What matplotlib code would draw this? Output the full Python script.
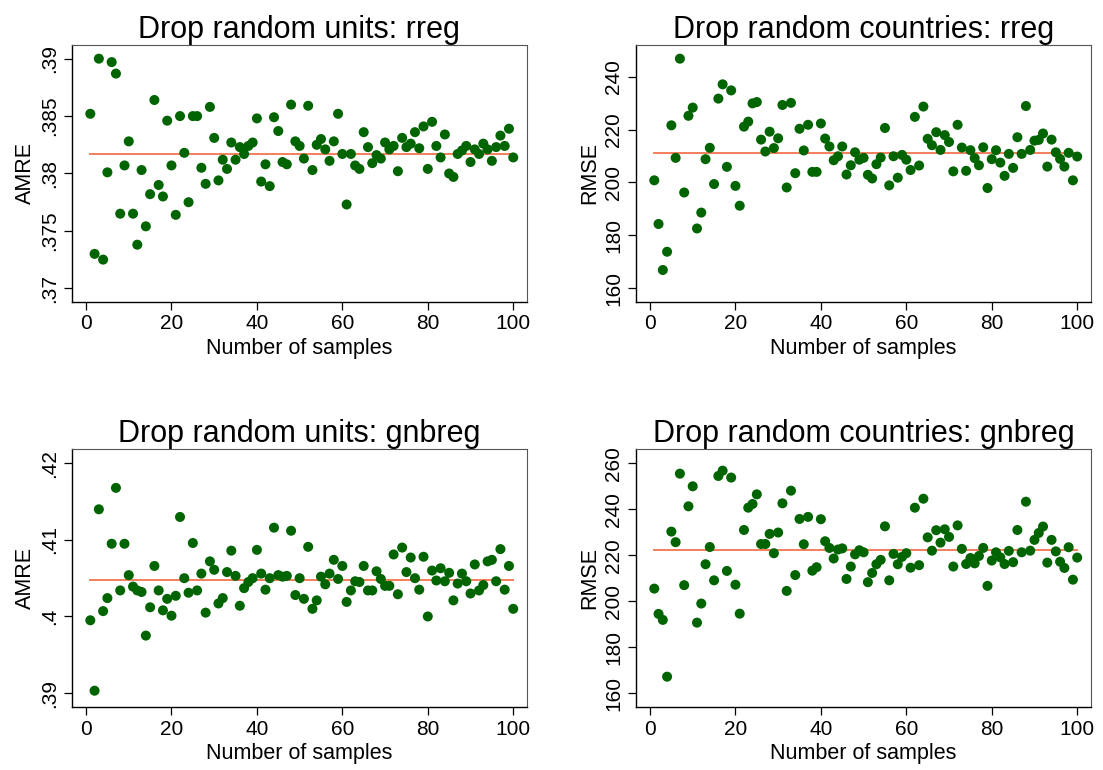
import numpy as np
import matplotlib
matplotlib.use("Agg")
import matplotlib.pyplot as plt

plt.rcParams["font.family"] = ["Liberation Sans", "DejaVu Sans"]

# sample number 1..100
samples = np.arange(1, 101)

units_rreg = [
    .3852, .3730, .3900, .3725, .3801, .3897, .3887, .3765, .3807, .3828,
    .3765, .3738, .3803, .3754, .3782, .3864, .3790, .3780, .3846, .3807,
    .3764, .3850, .3818, .3775, .3850, .3850, .3805, .3791, .3858, .3831,
    .3794, .3812, .3804, .3827, .3812, .3823, .3817, .3824, .3827, .3848,
    .3793, .3808, .3789, .3849, .3837, .3810, .3808, .3860, .3828, .3824,
    .3813, .3859, .3803, .3825, .3830, .3821, .3811, .3828, .3852, .3817,
    .3773, .3817, .3807, .3804, .3836, .3823, .3809, .3816, .3813, .3827,
    .3821, .3824, .3802, .3831, .3823, .3826, .3836, .3822, .3841, .3804,
    .3845, .3824, .3814, .3834, .3800, .3797, .3817, .3820, .3824, .3810,
    .3821, .3817, .3826, .3821, .3811, .3823, .3833, .3824, .3839, .3814]

countries_rreg = [
    200.8, 184.3, 166.9, 173.8, 221.6, 209.3, 246.8, 196.2, 225.2, 228.3,
    182.6, 188.6, 208.8, 213.1, 199.4, 231.7, 237.1, 205.9, 234.8, 198.7,
    191.2, 221.1, 223.0, 229.9, 230.4, 216.2, 211.7, 219.2, 213.0, 216.7,
    229.3, 198.1, 230.1, 203.5, 220.3, 212.1, 221.8, 204.0, 204.0, 222.3,
    216.6, 213.6, 208.4, 209.9, 213.6, 203.0, 206.5, 211.4, 208.6, 209.3,
    202.9, 201.5, 206.9, 209.4, 220.6, 198.9, 209.9, 201.8, 210.4, 208.6,
    204.7, 224.8, 206.4, 228.7, 216.5, 214.1, 219.0, 212.3, 217.9, 215.3,
    204.2, 221.8, 213.2, 204.4, 212.2, 209.2, 206.5, 213.3, 197.9, 208.8,
    212.2, 207.5, 202.5, 210.8, 205.5, 217.1, 210.8, 228.9, 212.3, 215.8,
    216.1, 218.5, 206.0, 216.2, 211.4, 208.9, 206.0, 211.2, 200.8, 209.8]

units_gnbreg = [
    .3995, .3903, .4140, .4007, .4024, .4095, .4168, .4034, .4095, .4054,
    .4039, .4034, .4032, .3975, .4012, .4066, .4034, .4008, .4023, .4001,
    .4027, .4130, .4050, .4031, .4096, .4034, .4056, .4005, .4072, .4061,
    .4017, .4024, .4058, .4086, .4053, .4014, .4037, .4045, .4050, .4087,
    .4056, .4035, .4050, .4116, .4054, .4052, .4053, .4112, .4028, .4050,
    .4023, .4091, .4010, .4021, .4052, .4042, .4056, .4074, .4049, .4066,
    .4019, .4034, .4046, .4045, .4066, .4034, .4034, .4059, .4049, .4040,
    .4040, .4081, .4029, .4090, .4058, .4077, .4050, .4035, .4078, .4000,
    .4060, .4047, .4063, .4046, .4057, .4021, .4043, .4056, .4046, .4030,
    .4068, .4034, .4041, .4072, .4074, .4046, .4088, .4035, .4066, .4010]

countries_gnbreg = [
    205.5, 194.5, 191.9, 167.2, 230.3, 225.7, 255.5, 207.0, 241.3, 250.0,
    190.7, 199.0, 216.1, 223.6, 209.1, 254.5, 256.8, 213.2, 253.8, 207.2,
    194.6, 231.0, 240.7, 242.3, 246.5, 224.9, 224.9, 229.3, 220.9, 229.9,
    242.6, 204.5, 248.1, 211.4, 235.8, 224.8, 236.7, 213.3, 214.8, 235.7,
    226.1, 223.2, 218.6, 222.5, 223.0, 209.7, 215.1, 220.4, 222.2, 221.3,
    208.3, 212.3, 216.1, 218.0, 232.6, 209.1, 220.6, 216.1, 219.3, 220.9,
    214.6, 240.7, 215.7, 244.6, 227.8, 222.0, 230.9, 225.5, 231.3, 228.0,
    215.1, 233.0, 222.8, 216.2, 218.8, 216.5, 219.7, 223.2, 206.7, 217.7,
    221.3, 219.1, 216.2, 221.9, 217.0, 231.0, 221.3, 243.3, 222.0, 226.7,
    229.7, 232.5, 216.8, 226.7, 221.7, 217.2, 214.5, 223.5, 209.4, 219.0]

# horizontal reference lines
mean_lines = [0.3817, 211.1, 0.4048, 222.3]

titles = ["Drop random units: rreg", "Drop random countries: rreg",
          "Drop random units: gnbreg", "Drop random countries: gnbreg"]
ylabels = ["AMRE", "RMSE", "AMRE", "RMSE"]
yticks = [[.37, .375, .38, .385, .39], [160, 180, 200, 220, 240],
          [.39, .40, .41, .42], [160, 180, 200, 220, 240, 260]]
yticklabels = [[".37", ".375", ".38", ".385", ".39"], ["160", "180", "200", "220", "240"],
               [".39", ".4", ".41", ".42"], ["160", "180", "200", "220", "240", "260"]]
ylims = [(0.36881, 0.39122), (154.8, 252.1), (0.38817, 0.42187), (154.0, 266.2)]
series = [units_rreg, countries_rreg, units_gnbreg, countries_gnbreg]

fig = plt.figure(figsize=(11.03, 7.70), dpi=100)
positions = [[0.0653, 0.6078, 0.4122, 0.3342], [0.5766, 0.6078, 0.4122, 0.3342],
             [0.0653, 0.0818, 0.4122, 0.3350], [0.5766, 0.0818, 0.4122, 0.3350]]

for i in range(4):
    ax = fig.add_axes(positions[i])
    ax.scatter(samples, series[i], s=52, color="#006400", edgecolors="none", zorder=3)
    ax.plot([1, 100], [mean_lines[i], mean_lines[i]], color="#f57f5b", lw=1.4, zorder=2)
    ax.set_xlim(-3.28, 103.15)
    ax.set_ylim(*ylims[i])
    ax.set_xticks([0, 20, 40, 60, 80, 100])
    ax.set_yticks(yticks[i])
    ax.set_yticklabels(yticklabels[i], rotation=90, va="center")
    ax.tick_params(labelsize=15, length=5.5, width=0.9, direction="out", pad=3.5)
    ax.set_title(titles[i], fontsize=22, pad=4)
    ax.set_xlabel("Number of samples", fontsize=15.5, labelpad=3)
    ax.set_ylabel(ylabels[i], fontsize=15.5, labelpad=3)
    for side in ["top", "right"]:
        ax.spines[side].set_color("#555555")
        ax.spines[side].set_linewidth(0.8)
    for side in ["left", "bottom"]:
        ax.spines[side].set_linewidth(1.0)

plt.savefig("out.png", dpi=100)
